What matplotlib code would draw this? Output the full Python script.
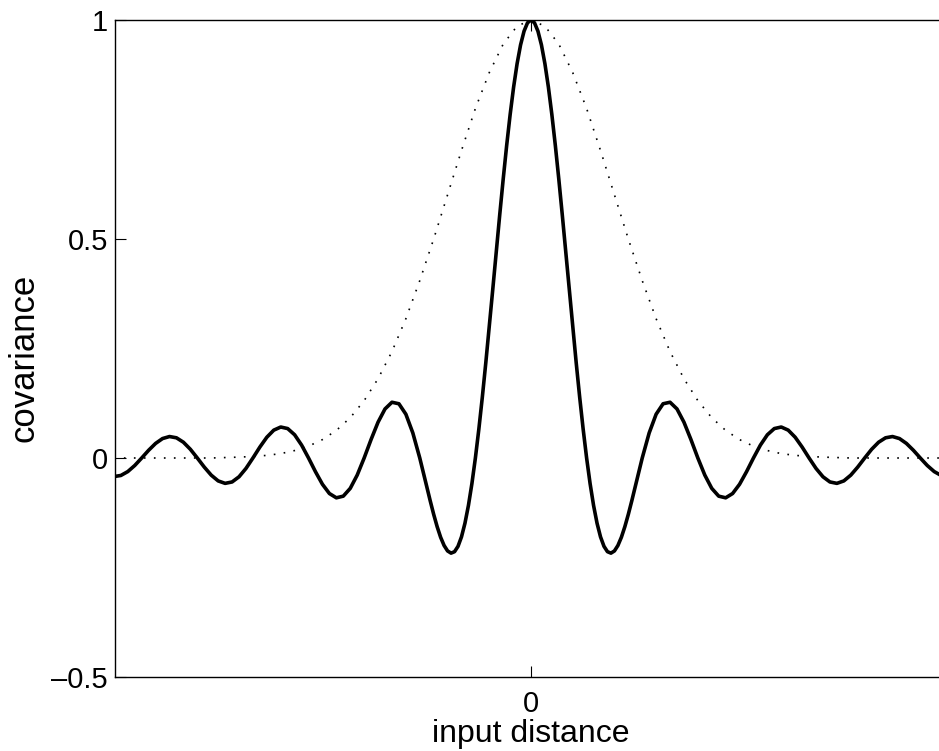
import matplotlib.pyplot as plt
import numpy as np

plt.rcParams['font.family'] = ['Liberation Sans', 'DejaVu Sans']

# solid curve, right half (mirrored for the left); finer steps near the main lobe
x_solid_half = np.concatenate([np.arange(0, 33) / 16.0, np.arange(17, 61) / 8.0])
y_solid_half = [1.0, 0.9936, 0.9745, 0.9432, 0.9003, 0.8470, 0.7842, 0.7136,
                0.6366, 0.5550, 0.4705, 0.3850, 0.3001, 0.2177, 0.1392, 0.0662,
                0.0, -0.0584, -0.1083, -0.1489, -0.1801, -0.2017, -0.2139, -0.2172,
                -0.2122, -0.1998, -0.1810, -0.1568, -0.1286, -0.0976, -0.0650, -0.0321,
                0.0, 0.0573, 0.1000, 0.1238, 0.1273, 0.1120, 0.0818, 0.0424,
                0.0, -0.0390, -0.0693, -0.0871, -0.0909, -0.0811, -0.0600, -0.0314,
                0.0, 0.0295, 0.0530, 0.0672, 0.0707, 0.0636, 0.0474, 0.0250,
                0.0, -0.0238, -0.0429, -0.0547, -0.0579, -0.0523, -0.0391, -0.0207,
                0.0, 0.0199, 0.0360, 0.0461, 0.0490, 0.0444, 0.0333, 0.0177,
                0.0, -0.0171, -0.0310, -0.0399, -0.0424]
x_solid = np.concatenate([-x_solid_half[:0:-1], x_solid_half])
y_solid = y_solid_half[:0:-1] + y_solid_half

# dotted curve sampled every 1/4 unit
x_dot = np.arange(-30, 31) / 4.0
y_dot_half = [1.0, 0.986, 0.945, 0.880, 0.798, 0.702, 0.601, 0.500, 0.405, 0.318,
              0.243, 0.181, 0.131, 0.092, 0.063, 0.042, 0.027, 0.017, 0.010, 0.006,
              0.0035, 0.002, 0.001, 0.0, 0.0, 0.0, 0.0, 0.0, 0.0, 0.0, 0.0]
y_dot = y_dot_half[:0:-1] + y_dot_half

fig = plt.figure(figsize=(9.39, 7.51), dpi=100)
ax = fig.add_axes([115 / 939, 74 / 751, 832 / 939, 657 / 751])

ax.plot(x_dot, y_dot, color='black', linewidth=1.2, linestyle=(0, (1, 5)))
ax.plot(x_solid, y_solid, color='black', linewidth=2.6,
        solid_joinstyle='round', solid_capstyle='round')

ax.set_xlim(-7.48, 7.48)
ax.set_ylim(-0.5, 1)
ax.set_xticks([0])
ax.set_yticks([-0.5, 0, 0.5, 1])
ax.set_yticklabels(['\u20130.5', '0', '0.5', '1'])
ax.tick_params(direction='in', length=8, width=0.8, labelsize=21,
               top=True, right=False)
ax.tick_params(axis='y', pad=5)
ax.tick_params(axis='x', pad=9)
for s in ax.spines.values():
    s.set_linewidth(1.0)

ax.set_xlabel('input distance', fontsize=23)
ax.set_ylabel('covariance', fontsize=25)
ax.xaxis.set_label_coords(0.5, -0.064)
ax.yaxis.set_label_coords(-0.090, 0.486)

fig.savefig('out.png', dpi=100)
